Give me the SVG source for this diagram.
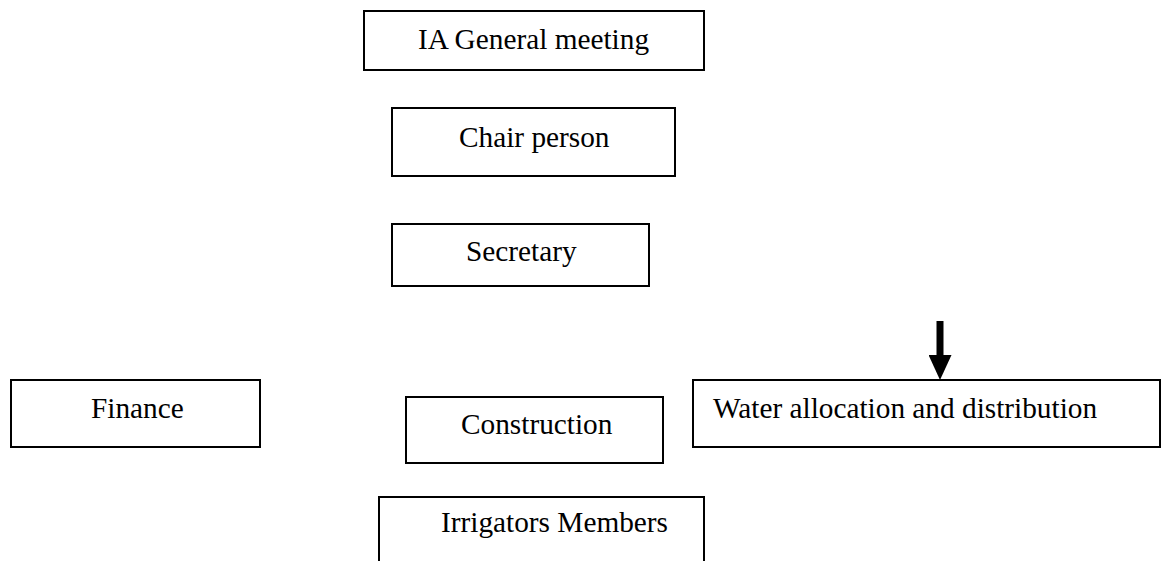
<svg xmlns="http://www.w3.org/2000/svg" width="1165" height="561" viewBox="0 0 1165 561">
<style>
.box{fill:#fff;stroke:#000;stroke-width:2}
.lbl{font-family:"Liberation Serif","Times New Roman",serif;font-size:29.3px;fill:#000}
.conn{stroke:#000;stroke-width:7;fill:none}
</style>
<defs>
<marker id="ah" markerUnits="userSpaceOnUse" viewBox="0 0 25 23" markerWidth="25" markerHeight="23" refX="5" refY="11.5" orient="auto">
<path d="M0,0 L25,11.5 L0,23 z" fill="#000"/>
</marker>
</defs>
<rect width="1165" height="561" fill="#fff"/>
<g id="n-general">
<rect class="box" x="364" y="11" width="340" height="59"/>
<text class="lbl" x="418" y="49">IA General meeting</text>
</g>
<g id="n-chair">
<rect class="box" x="392" y="108" width="283" height="68"/>
<text class="lbl" x="459" y="147">Chair person</text>
</g>
<g id="n-secretary">
<rect class="box" x="392" y="224" width="257" height="62"/>
<text class="lbl" x="466" y="261">Secretary</text>
</g>
<g id="n-finance">
<rect class="box" x="11" y="380" width="249" height="67"/>
<text class="lbl" x="91" y="418">Finance</text>
</g>
<g id="n-construction">
<rect class="box" x="406" y="397" width="257" height="66"/>
<text class="lbl" x="461" y="434">Construction</text>
</g>
<g id="n-water">
<rect class="box" x="693" y="380" width="467" height="67"/>
<text class="lbl" x="713" y="418">Water allocation and distribution</text>
</g>
<g id="n-irrigators">
<rect class="box" x="379" y="497" width="325" height="80"/>
<text class="lbl" x="441" y="532">Irrigators Members</text>
</g>
<g id="connectors">
<line class="conn" x1="940" y1="321" x2="940" y2="360" marker-end="url(#ah)"/>
</g>
</svg>
